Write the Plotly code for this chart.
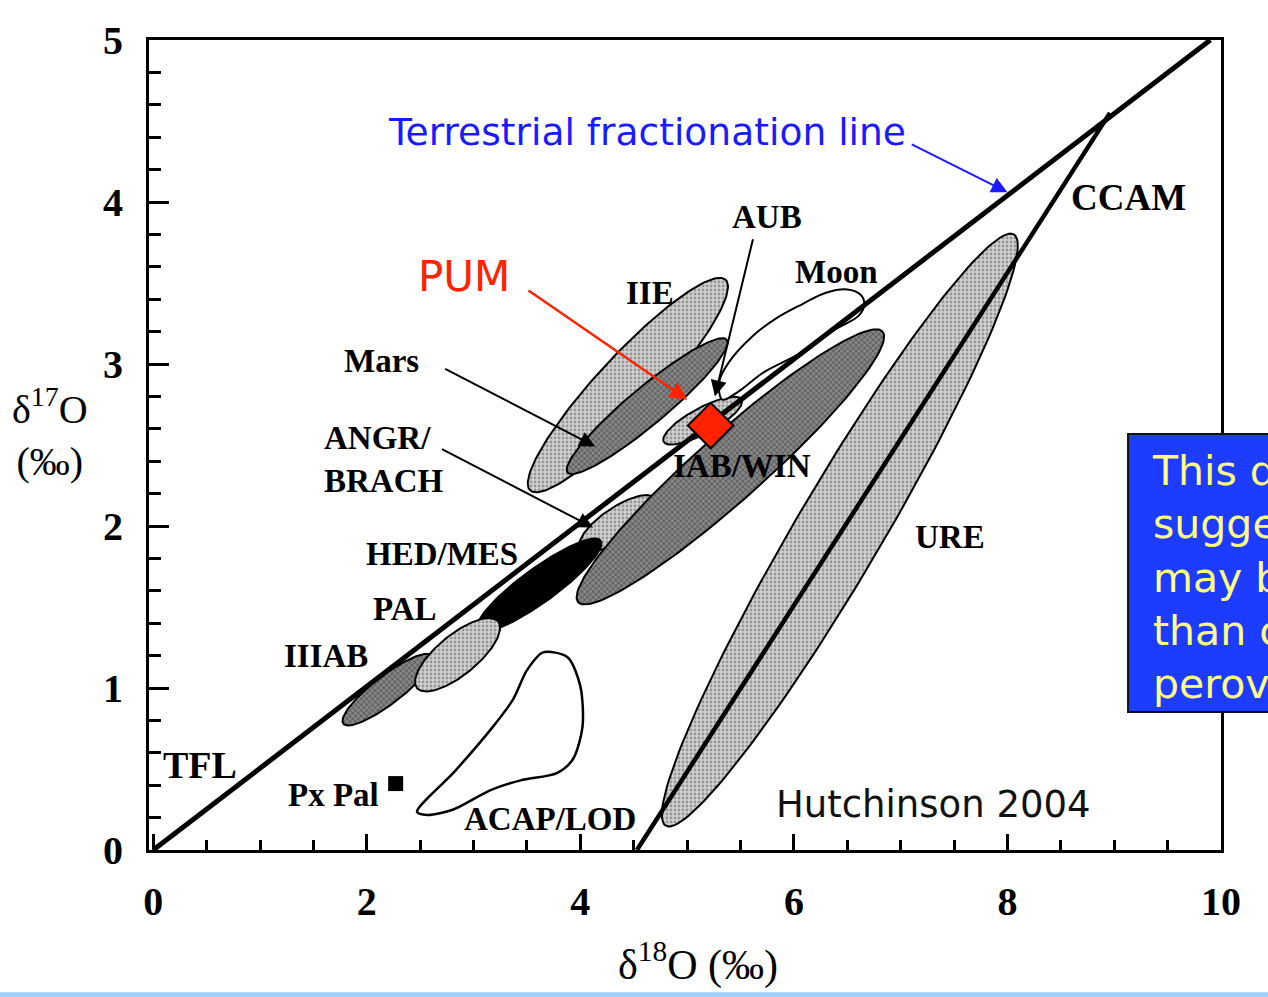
import numpy as np
import plotly.graph_objects as go

# ---------------------------------------------------------------- data
# Terrestrial fractionation line and CCAM line end points (d18O, d17O)
tfl_d18O = [0.0, 9.9]
tfl_d17O = [0.0, 5.0]
ccam_d18O = [4.53, 8.96]
ccam_d17O = [0.0, 4.55]

# Elongated fields: two tips (d18O, d17O) and the d17O thickness through the centre
field_names = ["URE", "IIE", "Mars", "ANGR/BRACH", "IAB/WIN", "AUB", "IIIAB", "HED/MES", "PAL"]
field_x1 = [4.80, 3.53, 3.88, 4.00, 3.98, 4.78, 1.78, 3.04, 2.47]
field_y1 = [0.15, 2.22, 2.33, 1.86, 1.53, 2.52, 0.78, 1.36, 1.00]
field_x2 = [8.06, 5.36, 5.37, 4.70, 6.83, 5.51, 2.61, 4.19, 3.23]
field_y2 = [3.80, 3.52, 3.15, 2.17, 3.20, 2.78, 1.20, 1.91, 1.41]
field_thick = [1.05, 0.54, 0.30, 0.24, 0.55, 0.18, 0.22, 0.26, 0.32]
field_tone = ["light", "light", "dark", "light", "dark", "light", "dark", "black", "light"]

# Moon field outline
moon_d18O = [5.30, 5.39, 5.61, 5.83, 6.08, 6.30, 6.50, 6.62, 6.66, 6.61, 6.38, 6.07, 5.72, 5.48, 5.33]
moon_d17O = [2.89, 3.01, 3.17, 3.28, 3.37, 3.44, 3.46, 3.43, 3.37, 3.30, 3.21, 3.07, 2.95, 2.83, 2.78]

# Acapulcoite / lodranite field outline
acap_d18O = [2.47, 2.83, 3.18, 3.37, 3.50, 3.65, 3.88, 4.00, 4.02, 3.93, 3.78, 3.44, 3.16, 2.81, 2.57]
acap_d17O = [0.235, 0.49, 0.76, 0.93, 1.11, 1.22, 1.19, 1.01, 0.76, 0.56, 0.475, 0.43, 0.37, 0.25, 0.216]

# Single points
pxpal = (2.27, 0.41)
pum = (5.22, 2.62)

# Field labels (d18O, d17O of label centre)
label_text = ["IIIAB", "PAL", "HED/MES", "Mars", "IIE", "AUB", "Moon", "IAB/WIN", "URE", "ACAP/LOD"]
label_x = [1.62, 2.36, 2.70, 2.14, 4.65, 5.75, 6.40, 5.51, 7.46, 3.72]
label_y = [1.20, 1.49, 1.83, 3.02, 3.44, 3.91, 3.57, 2.37, 1.93, 0.19]

# Leader arrows: tail -> head
arrow_names = ["Mars", "ANGR/BRACH", "AUB"]
arrow_tail_x = [2.72, 2.69, 5.62]
arrow_tail_y = [2.975, 2.48, 3.78]
arrow_head_x = [4.14, 4.12, 5.26]
arrow_head_y = [2.49, 1.99, 2.80]

x_ticks = [0, 2, 4, 6, 8, 10]
y_ticks = [0, 1, 2, 3, 4, 5]

# ---------------------------------------------------------------- layout geometry
W, H = 1268, 997
MARGIN = dict(l=149, r=47, t=40, b=147)
X_RANGE = [-0.04, 10]
Y_RANGE = [0, 5]
PW = W - MARGIN["l"] - MARGIN["r"]
PH = H - MARGIN["t"] - MARGIN["b"]
SX = PW / (X_RANGE[1] - X_RANGE[0])
SY = PH / (Y_RANGE[1] - Y_RANGE[0])

SERIF = "Liberation Serif"
SANS = "DejaVu Sans"

TONES = {
    "light": dict(fillcolor="#c4c4c4",
                  fillpattern=dict(shape=".", bgcolor="#d2d2d2", fgcolor="#5a5a5a", size=4, solidity=0.4)),
    "dark": dict(fillcolor="#6a6a6a",
                 fillpattern=dict(shape="x", bgcolor="#858585", fgcolor="#2a2a2a", size=4, solidity=0.4)),
    "black": dict(fillcolor="#000000"),
}


def ellipse(x1, y1, x2, y2, thick, n=160):
    """Ellipse between two tips, built in screen-proportional units."""
    u1, v1, u2, v2 = x1 * SX, y1 * SY, x2 * SX, y2 * SY
    cu, cv = (u1 + u2) / 2, (v1 + v2) / 2
    a = np.hypot(u2 - u1, v2 - v1) / 2
    th = np.arctan2(v2 - v1, u2 - u1)
    b = thick * SY / 2 * np.cos(th)
    t = np.linspace(0, 2 * np.pi, n)
    u = cu + a * np.cos(t) * np.cos(th) - b * np.sin(t) * np.sin(th)
    v = cv + a * np.cos(t) * np.sin(th) + b * np.sin(t) * np.cos(th)
    return u / SX, v / SY


fig = go.Figure()


def add_field(xs, ys, tone, name):
    style = TONES[tone]
    kw = dict(x=xs, y=ys, mode="lines", fill="toself", name=name,
              line=dict(color="black", width=2), hoverinfo="skip", showlegend=False,
              fillcolor=style["fillcolor"])
    if "fillpattern" in style:
        kw["fillpattern"] = style["fillpattern"]
    fig.add_trace(go.Scatter(**kw))


# fields drawn back to front
for nm in ["URE", "IIE", "Mars", "ANGR/BRACH", "IAB/WIN", "AUB"]:
    i = field_names.index(nm)
    ex, ey = ellipse(field_x1[i], field_y1[i], field_x2[i], field_y2[i], field_thick[i])
    add_field(ex, ey, field_tone[i], nm)

fig.add_trace(go.Scatter(x=moon_d18O + moon_d18O[:1], y=moon_d17O + moon_d17O[:1], mode="lines",
                         line=dict(color="black", width=2, shape="spline", smoothing=1.0),
                         fill="toself", fillcolor="white", hoverinfo="skip", showlegend=False))

for nm in ["IIIAB", "HED/MES", "PAL"]:
    i = field_names.index(nm)
    ex, ey = ellipse(field_x1[i], field_y1[i], field_x2[i], field_y2[i], field_thick[i])
    add_field(ex, ey, field_tone[i], nm)

fig.add_trace(go.Scatter(x=acap_d18O + acap_d18O[:1], y=acap_d17O + acap_d17O[:1], mode="lines",
                         line=dict(color="black", width=2.5, shape="spline", smoothing=0.8),
                         hoverinfo="skip", showlegend=False))

# fractionation lines
fig.add_trace(go.Scatter(x=tfl_d18O, y=tfl_d17O, mode="lines",
                         line=dict(color="black", width=5), hoverinfo="skip", showlegend=False))
fig.add_trace(go.Scatter(x=ccam_d18O, y=ccam_d17O, mode="lines",
                         line=dict(color="black", width=4.5), hoverinfo="skip", showlegend=False))

# point data
fig.add_trace(go.Scatter(x=[pxpal[0]], y=[pxpal[1]], mode="markers",
                         marker=dict(symbol="square", size=15, color="black"),
                         hoverinfo="skip", showlegend=False))
fig.add_trace(go.Scatter(x=[pum[0]], y=[pum[1]], mode="markers",
                         marker=dict(symbol="diamond", size=35, color="#ff2200",
                                     line=dict(color="black", width=2)),
                         hoverinfo="skip", showlegend=False))

annotations = []
lab_font = dict(family=SERIF, size=33, color="black", weight="bold")
for t, x, y in zip(label_text, label_x, label_y):
    annotations.append(dict(x=x, y=y, xref="x", yref="y", text=t, showarrow=False,
                            font=lab_font, xanchor="center", yanchor="middle"))
annotations += [
    dict(x=0.07, y=0.525, xref="x", yref="y", text="TFL", showarrow=False,
         font=dict(family=SERIF, size=38, color="black", weight="bold"), xanchor="left", yanchor="middle"),
    dict(x=2.13, y=0.34, xref="x", yref="y", text="Px Pal", showarrow=False,
         font=lab_font, xanchor="right", yanchor="middle"),
    dict(x=1.58, y=2.41, xref="x", yref="y", text="ANGR/<br>BRACH", showarrow=False, align="left",
         font=lab_font, xanchor="left", yanchor="middle"),
    dict(x=9.13, y=4.03, xref="x", yref="y", text="CCAM", showarrow=False,
         font=dict(family=SERIF, size=37, color="black", weight="bold"), xanchor="center", yanchor="middle"),
    dict(x=5.81, y=0.28, xref="x", yref="y", text="Hutchinson 2004", showarrow=False,
         font=dict(family=SANS, size=37, color="#111111"), xanchor="left", yanchor="middle"),
    dict(x=2.18, y=4.43, xref="x", yref="y", text="Terrestrial fractionation line", showarrow=False,
         font=dict(family=SANS, size=37.6, color="#1a1aff"), xanchor="left", yanchor="middle"),
    dict(x=2.91, y=3.54, xref="x", yref="y", text="PUM", showarrow=False,
         font=dict(family=SANS, size=42, color="#ff2200"), xanchor="center", yanchor="middle"),
]

for tx, ty, hx, hy in zip(arrow_tail_x, arrow_tail_y, arrow_head_x, arrow_head_y):
    annotations.append(dict(x=hx, y=hy, ax=tx, ay=ty, xref="x", yref="y", axref="x", ayref="y",
                            text="", showarrow=True, arrowhead=2, arrowsize=1.6, arrowwidth=2,
                            arrowcolor="black", standoff=0))
annotations.append(dict(x=5.0, y=2.78, ax=3.50, ay=3.46, xref="x", yref="y", axref="x", ayref="y",
                        text="", showarrow=True, arrowhead=2, arrowsize=1.4, arrowwidth=2.5,
                        arrowcolor="#ff2200", standoff=0))
annotations.append(dict(x=8.0, y=4.06, ax=7.09, ay=4.36, xref="x", yref="y", axref="x", ayref="y",
                        text="", showarrow=True, arrowhead=2, arrowsize=1.6, arrowwidth=2,
                        arrowcolor="#1a1aff", standoff=0))

# axis titles
annotations.append(dict(x=-0.0924, y=0.515, xref="paper", yref="paper",
                        text="δ<sup>17</sup>O<br>(‰)", showarrow=False,
                        font=dict(family=SERIF, size=40, color="black"), xanchor="center", yanchor="middle"))
annotations.append(dict(x=0.512, y=-0.138, xref="paper", yref="paper",
                        text="δ<sup>18</sup>O (‰)", showarrow=False,
                        font=dict(family=SERIF, size=42, color="black"), xanchor="center", yanchor="middle"))

# side note box (its text runs on past the right edge of the page)
annotations.append(dict(x=0.9338, y=0.336, xref="paper", yref="paper",
                        text="This d<br>sugge<br>may b<br>than c<br>perov", showarrow=False, align="left",
                        font=dict(family=SANS, size=41, color="#ffff80"), xanchor="left", yanchor="middle"))

shapes = [
    dict(type="rect", xref="paper", yref="paper", x0=0.9133, x1=1.06, y0=0.1704, y1=0.5136,
         fillcolor="#1e3cff", line=dict(color="#111111", width=2), layer="above"),
    dict(type="rect", xref="paper", yref="paper", x0=-0.15, x1=1.06, y0=-0.1835, y1=-0.1755,
         fillcolor="#9fd0ff", line=dict(width=0), layer="above"),
]

tick_font = dict(family=SERIF, size=40, color="black", weight="bold")
fig.update_layout(
    width=W, height=H, margin=MARGIN,
    paper_bgcolor="white", plot_bgcolor="white",
    showlegend=False,
    annotations=annotations, shapes=shapes,
    xaxis=dict(range=X_RANGE, tickvals=x_ticks, ticktext=[str(v) for v in x_ticks],
               ticks="inside", ticklen=16, tickwidth=3, tickcolor="black",
               minor=dict(dtick=0.5, tick0=0, ticks="inside", ticklen=10, tickwidth=2.5, tickcolor="black"),
               showline=True, linewidth=3, linecolor="black", mirror=True,
               showgrid=False, zeroline=False, tickfont=tick_font, ticklabelstandoff=14),
    yaxis=dict(range=Y_RANGE, tickvals=y_ticks, ticktext=[str(v) for v in y_ticks],
               ticks="inside", ticklen=20, tickwidth=3, tickcolor="black",
               minor=dict(dtick=0.2, tick0=0, ticks="inside", ticklen=12, tickwidth=2.5, tickcolor="black"),
               showline=True, linewidth=3, linecolor="black", mirror=True,
               showgrid=False, zeroline=False, tickfont=tick_font, ticklabelstandoff=15),
)

fig.write_html("out.html")
